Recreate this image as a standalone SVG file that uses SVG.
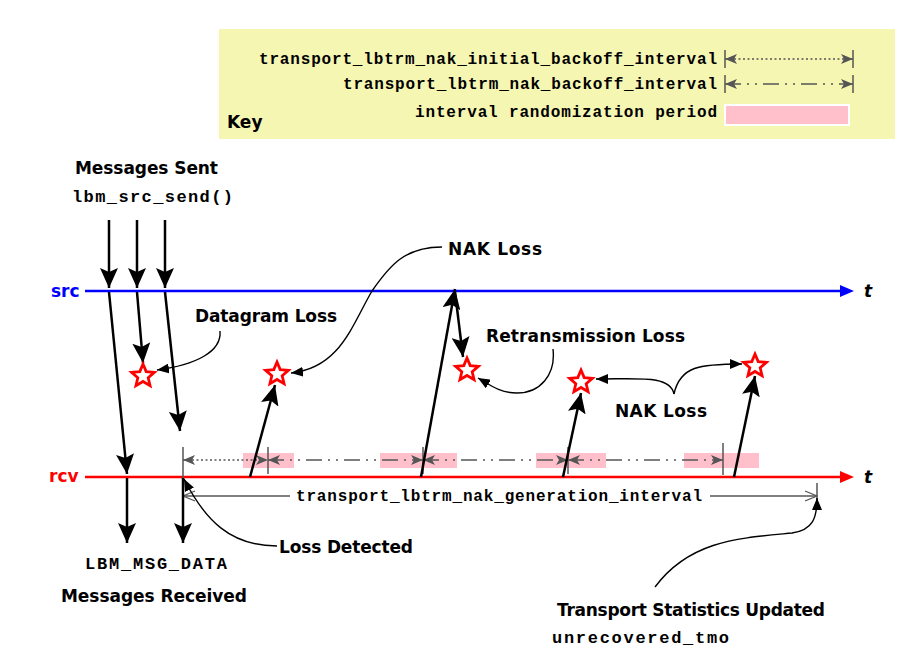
<svg xmlns="http://www.w3.org/2000/svg" xmlns:xlink="http://www.w3.org/1999/xlink" width="908" height="667" viewBox="0 0 908 667">
<style>
.sans{font-family:"DejaVu Sans","Liberation Sans",sans-serif;font-weight:bold;font-size:17px;fill:#000}
.mono{font-family:"Liberation Mono","DejaVu Sans Mono",monospace;font-weight:bold;font-size:16px;fill:#000}
.mono.big{font-size:17px}
.main{stroke:#000;stroke-width:2.5;fill:none;marker-end:url(#big)}
.note{stroke:#000;stroke-width:1.4;fill:none;marker-end:url(#small)}
.ivl{stroke:#555;stroke-width:1.5;fill:none;marker-start:url(#gray);marker-end:url(#gray)}
.dot{stroke-dasharray:2 2.5}
.dd{stroke-dasharray:16 6 2 6 2 6}
.tick{stroke:#555;stroke-width:1.5}
.star{fill:#fff;stroke:#f00;stroke-width:2.8;stroke-linejoin:miter}
.pink{fill:#ffc0cb}
</style>
<defs>
<marker id="big" markerUnits="userSpaceOnUse" markerWidth="20" markerHeight="18" viewBox="0 0 20 18" refX="20" refY="9" orient="auto"><path d="M0,0 L20,9 L0,18 L4,9 z" fill="#000"/></marker>
<marker id="small" markerUnits="userSpaceOnUse" markerWidth="12" markerHeight="10" viewBox="0 0 12 10" refX="12" refY="5" orient="auto"><path d="M0,0 L12,5 L0,10 z" fill="#000"/></marker>
<marker id="gray" markerUnits="userSpaceOnUse" markerWidth="12" markerHeight="10" viewBox="0 0 12 10" refX="12" refY="5" orient="auto-start-reverse"><path d="M0,0 L12,5 L0,10 L3,5 z" fill="#555"/></marker>
<marker id="open" markerUnits="userSpaceOnUse" markerWidth="14" markerHeight="12" viewBox="0 0 14 12" refX="13" refY="6" orient="auto-start-reverse"><path d="M1,1 L13,6 L1,11" fill="none" stroke="#555" stroke-width="1.3"/></marker>
<polygon id="starshape" points="0,-12 3.2,-4.4 11.4,-3.7 5.2,1.7 7.05,9.7 0,5.5 -7.05,9.7 -5.2,1.7 -11.4,-3.7 -3.2,-4.4"/>
</defs>
<rect width="908" height="667" fill="#fff"/>

<g id="key">
<rect x="219" y="29" width="676" height="110" fill="#f6f6b3"/>
<text class="mono" x="259" y="64" textLength="458">transport_lbtrm_nak_initial_backoff_interval</text>
<text class="mono" x="343" y="89" textLength="374">transport_lbtrm_nak_backoff_interval</text>
<text class="mono" x="415" y="117" textLength="302">interval randomization period</text>
<text class="sans" x="227" y="128">Key</text>
<line class="tick" x1="725" y1="50" x2="725" y2="68"/>
<line class="tick" x1="853" y1="50" x2="853" y2="68"/>
<line class="ivl dot" x1="725" y1="59" x2="853" y2="59"/>
<line class="tick" x1="725" y1="75" x2="725" y2="93"/>
<line class="tick" x1="853" y1="75" x2="853" y2="93"/>
<line class="ivl dd" x1="725" y1="84" x2="853" y2="84"/>
<rect x="725" y="105" width="124" height="20" fill="#ffc0cb" stroke="#fff" stroke-width="2"/>
</g>

<g id="src">
<text class="sans" x="51" y="297" style="fill:#00f">src</text>
<line x1="85" y1="291" x2="842" y2="291" stroke="#00f" stroke-width="2.5"/>
<polygon points="840,285 854,291 840,297" fill="#00f"/>
<text class="sans" x="864" y="297" font-style="italic">t</text>
</g>

<g id="rcv">
<text class="sans" x="49" y="482" style="fill:#f00">rcv</text>
<rect class="pink" x="243" y="453" width="51" height="15"/>
<rect class="pink" x="380" y="453" width="77" height="15"/>
<rect class="pink" x="536" y="453" width="70" height="15"/>
<rect class="pink" x="684" y="453" width="75" height="15"/>
<line x1="85" y1="477" x2="842" y2="477" stroke="#f00" stroke-width="2.5"/>
<polygon points="840,471 854,477 840,483" fill="#f00"/>
<text class="sans" x="864" y="483" font-style="italic">t</text>
</g>

<g id="intervals">
<line class="tick" x1="183" y1="447" x2="183" y2="505"/>
<line class="tick" x1="268" y1="447" x2="268" y2="474"/>
<line class="tick" x1="423" y1="447" x2="423" y2="474"/>
<line class="tick" x1="568" y1="447" x2="568" y2="474"/>
<line class="tick" x1="723" y1="443" x2="723" y2="475"/>
<line class="ivl dot" x1="183" y1="460" x2="268" y2="460"/>
<line class="ivl dd" x1="268" y1="460" x2="423" y2="460"/>
<line class="ivl dd" x1="423" y1="460" x2="568" y2="460"/>
<line class="ivl dd" x1="568" y1="460" x2="723" y2="460"/>
<line class="tick" x1="817" y1="483" x2="817" y2="500"/>
<line x1="183" y1="496" x2="290" y2="496" stroke="#555" stroke-width="1.3" marker-start="url(#open)"/>
<line x1="710" y1="496" x2="817" y2="496" stroke="#555" stroke-width="1.3" marker-end="url(#open)"/>
<text class="mono" x="296" y="501" textLength="406">transport_lbtrm_nak_generation_interval</text>
</g>

<g id="connectors">
<line class="main" x1="109" y1="220" x2="109" y2="288"/>
<line class="main" x1="137" y1="220" x2="137" y2="288"/>
<line class="main" x1="165" y1="220" x2="165" y2="288"/>
<line class="main" x1="109" y1="292" x2="127" y2="474"/>
<line class="main" x1="137" y1="292" x2="143" y2="363"/>
<line class="main" x1="165" y1="292" x2="180" y2="431"/>
<line class="main" x1="127" y1="478" x2="127" y2="543"/>
<line class="main" x1="183" y1="478" x2="183" y2="543"/>
<line class="main" x1="250" y1="477" x2="275" y2="385"/>
<line class="main" x1="421" y1="477" x2="455" y2="289"/>
<line class="main" x1="455" y1="292" x2="463" y2="357"/>
<line class="main" x1="563" y1="477" x2="581" y2="393"/>
<line class="main" x1="734" y1="477" x2="755" y2="376"/>
<path class="note" d="M220,331 C222,352 195,365 157,370"/>
<path class="note" d="M442,247 C405,247 390,265 372,291 C352,325 340,368 291,373"/>
<path class="note" d="M553,349 C556,375 540,393 517,393 C500,393 490,385 478,378"/>
<path class="note" d="M674,394 C670,375 640,379 596,379"/>
<path class="note" d="M674,394 C680,366 700,364 742,364"/>
<path class="note" d="M277,546 C230,546 205,520 184,479"/>
<path class="note" d="M655,587 C690,540 740,538 792,533 C813,530 817,518 817,498"/>
</g>

<g id="stars">
<use xlink:href="#starshape" class="star" x="143" y="376"/>
<use xlink:href="#starshape" class="star" x="277" y="374"/>
<use xlink:href="#starshape" class="star" x="467" y="370"/>
<use xlink:href="#starshape" class="star" x="581" y="382"/>
<use xlink:href="#starshape" class="star" x="755" y="366"/>
</g>

<g id="labels">
<text class="sans" x="75" y="174" textLength="143">Messages Sent</text>
<text class="mono big" x="72" y="202" textLength="161">lbm_src_send()</text>
<text class="sans" x="195" y="322" textLength="142">Datagram Loss</text>
<text class="sans" x="448" y="255" textLength="94">NAK Loss</text>
<text class="sans" x="486" y="342" textLength="199">Retransmission Loss</text>
<text class="sans" x="615" y="417" textLength="92">NAK Loss</text>
<text class="sans" x="279" y="553" textLength="134">Loss Detected</text>
<text class="mono big" x="85" y="569" textLength="142">LBM_MSG_DATA</text>
<text class="sans" x="61" y="602" textLength="186">Messages Received</text>
<text class="sans" x="557" y="616" textLength="268">Transport Statistics Updated</text>
<text class="mono big" x="552" y="643" textLength="177">unrecovered_tmo</text>
</g>
</svg>
